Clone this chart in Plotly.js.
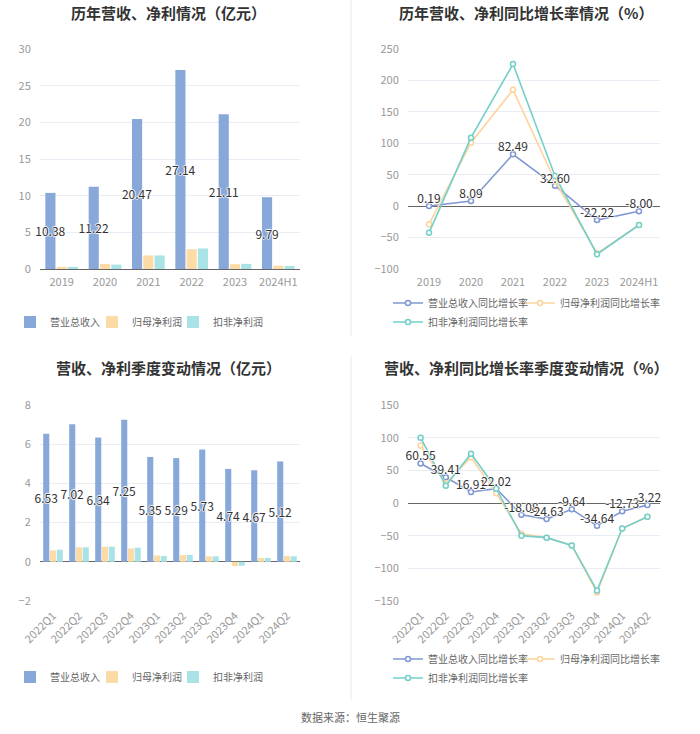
<!DOCTYPE html>
<html>
<head>
<meta charset="utf-8">
<script src="https://cdn.plot.ly/plotly-3.0.1.min.js"></script>
<style>html,body{margin:0;padding:0;background:#fff;}#chart{width:700px;height:734px;}</style>
</head>
<body>
<div id="chart"></div>
<script>
// ---- data ----
const years = ['2019', '2020', '2021', '2022', '2023', '2024H1'];
const revenue = [10.38, 11.22, 20.47, 27.14, 21.11, 9.79];
const netProfit = [0.30, 0.70, 1.85, 2.70, 0.65, 0.45];
const netProfitDed = [0.30, 0.60, 1.85, 2.80, 0.70, 0.42];

const revenueYoY = [0.19, 8.09, 82.49, 32.60, -22.22, -8.00];
const netProfitYoY = [-29, 101, 185, 40, -75, -30];
const netProfitDedYoY = [-42.5, 109, 226, 48, -76.5, -30];

const quarters = ['2022Q1', '2022Q2', '2022Q3', '2022Q4', '2023Q1', '2023Q2', '2023Q3', '2023Q4', '2024Q1', '2024Q2'];
const qRevenue = [6.53, 7.02, 6.34, 7.25, 5.35, 5.29, 5.73, 4.74, 4.67, 5.12];
const qNetProfit = [0.58, 0.74, 0.77, 0.68, 0.32, 0.35, 0.28, -0.22, 0.20, 0.30];
const qNetProfitDed = [0.62, 0.74, 0.77, 0.72, 0.30, 0.35, 0.28, -0.20, 0.20, 0.28];

const qRevenueYoY = [60.55, 39.41, 16.91, 22.02, -18.08, -24.63, -9.64, -34.64, -12.73, -3.22];
const qNetProfitYoY = [88, 30, 70, 15, -47, -53, -65, -137, -39, -21];
const qNetProfitDedYoY = [100, 26.5, 75.5, 22, -50, -53, -65, -134, -39, -21];

const names = ['营业总收入', '归母净利润', '扣非净利润'];
const lineNames = ['营业总收入同比增长率', '归母净利润同比增长率', '扣非净利润同比增长率'];

// ---- styles ----
const FONT = 'Noto Sans CJK SC, Noto Sans, sans-serif';
const cBlue = '#88a8da', cOrange = '#fddba6', cTeal = '#a9e3e6';
const lBlue = '#7f97d2', lOrange = '#fdd49c', lTeal = '#72cfc9';
const halo = '1px 0 1px #fff, -1px 0 1px #fff, 0 1px 1px #fff, 0 -1px 1px #fff';

function barTraces(x, a, b, c, xa, ya, legs) {
  return [
    {type: 'bar', x: x, y: a, name: names[0], marker: {color: cBlue}, xaxis: xa, yaxis: ya, legend: legs[0],
     texttemplate: '%{y:.2f}', textposition: 'inside', insidetextanchor: 'middle', constraintext: 'none', textangle: 0,
     cliponaxis: false, textfont: {color: '#333', size: 12, family: FONT, shadow: halo}, hoverinfo: 'skip'},
    {type: 'bar', x: x, y: b, name: names[1], marker: {color: cOrange}, xaxis: xa, yaxis: ya, legend: legs[1], hoverinfo: 'skip'},
    {type: 'bar', x: x, y: c, name: names[2], marker: {color: cTeal}, xaxis: xa, yaxis: ya, legend: legs[2], hoverinfo: 'skip'}
  ];
}
function lineTraces(x, a, b, c, xa, ya, legs) {
  const mk = (col) => ({symbol: 'circle', size: 5, color: '#fff', line: {color: col, width: 1.5}});
  return [
    {type: 'scatter', mode: 'lines+markers', x: x, y: a, name: lineNames[0], xaxis: xa, yaxis: ya, legend: legs[0],
     line: {color: lBlue, width: 1.6}, marker: mk(lBlue), hoverinfo: 'skip'},
    {type: 'scatter', mode: 'lines+markers', x: x, y: b, name: lineNames[1], xaxis: xa, yaxis: ya, legend: legs[1],
     line: {color: lOrange, width: 1.6}, marker: mk(lOrange), hoverinfo: 'skip'},
    {type: 'scatter', mode: 'lines+markers', x: x, y: c, name: lineNames[2], xaxis: xa, yaxis: ya, legend: legs[2],
     line: {color: lTeal, width: 1.6}, marker: mk(lTeal), hoverinfo: 'skip'},
    // value labels of the revenue growth series, drawn on top
    {type: 'scatter', mode: 'text', x: x, y: a, xaxis: xa, yaxis: ya, showlegend: false, cliponaxis: false,
     texttemplate: '%{y:.2f}', textposition: 'top center',
     textfont: {color: '#333', size: 12, family: FONT, shadow: halo}, hoverinfo: 'skip'}
  ];
}

const data = [].concat(
  barTraces(years, revenue, netProfit, netProfitDed, 'x', 'y', ['legend', 'legend2', 'legend3']),
  lineTraces(years, revenueYoY, netProfitYoY, netProfitDedYoY, 'x2', 'y2', ['legend4', 'legend5', 'legend6']),
  barTraces(quarters, qRevenue, qNetProfit, qNetProfitDed, 'x3', 'y3', ['legend7', 'legend8', 'legend9']),
  lineTraces(quarters, qRevenueYoY, qNetProfitYoY, qNetProfitDedYoY, 'x4', 'y4', ['legend10', 'legend11', 'legend12'])
);

const W = 700, H = 734;
const px = (v) => v / W, py = (v) => 1 - v / H;
const tickFont = {family: FONT, size: 11, color: '#999'};

function xAxis(domain, anchor, cats, angle) {
  return {domain: domain, anchor: anchor, type: 'category', categoryarray: cats, range: [-0.5, cats.length - 0.5],
    showgrid: false, zeroline: false, showline: false, ticks: 'outside', ticklen: 3, tickcolor: 'rgba(0,0,0,0)',
    tickfont: tickFont, tickangle: angle, fixedrange: true, automargin: false};
}
// tick marks sitting on the zero line
function tickAxis(over, cats, yDom, yRange) {
  const frac = (0 - yRange[0]) / (yRange[1] - yRange[0]);
  const pos = yDom[0] + frac * (yDom[1] - yDom[0]);
  return {overlaying: over, anchor: 'free', position: pos, type: 'category', categoryarray: cats,
    tickmode: 'array', tickvals: cats, range: [-0.5, cats.length - 0.5], showticklabels: false,
    ticks: 'outside', ticklen: 4, tickcolor: '#666', tickwidth: 1, showline: false, showgrid: false, zeroline: false,
    fixedrange: true, automargin: false};
}
function yAxis(domain, anchor, range, dtick) {
  return {domain: domain, anchor: anchor, range: range, dtick: dtick, showgrid: true, gridcolor: '#e9ecf2',
    gridwidth: 1, zeroline: true, zerolinecolor: '#666', zerolinewidth: 1, showline: false,
    ticks: 'outside', ticklen: 6, tickcolor: 'rgba(0,0,0,0)', tickfont: tickFont, fixedrange: true, automargin: false};
}

const xTop = [px(40), px(300)], xTopR = [px(408), px(660)];
const yTop = [py(269), py(49)], yBot = [py(601), py(405)];
const r1 = [0, 30], r2 = [-100, 250], r3 = [-2, 8], r4 = [-150, 150];

const leg = (x, y) => ({orientation: 'h', font: {family: FONT, size: 10, color: '#666'}, bgcolor: 'rgba(0,0,0,0)',
  borderwidth: 0, yanchor: 'middle', xanchor: 'left', itemwidth: 30, x: px(x), y: py(y)});

const title = (text, x, y) => ({text: '<b>' + text + '</b>', x: x, y: y, xref: 'paper', yref: 'paper',
  xanchor: 'center', yanchor: 'middle', showarrow: false, font: {family: FONT, size: 15, color: '#333'}});

const layout = {
  width: W, height: H, margin: {l: 0, r: 0, t: 0, b: 0}, paper_bgcolor: '#fff', plot_bgcolor: '#fff',
  font: {family: FONT}, barmode: 'group', bargap: 0.22, bargroupgap: 0.1, showlegend: true,
  xaxis: xAxis(xTop, 'y', years, 0),
  yaxis: yAxis(yTop, 'x', r1, 5),
  xaxis2: xAxis(xTopR, 'y2', years, 0),
  yaxis2: yAxis(yTop, 'x2', r2, 50),
  xaxis3: xAxis(xTop, 'y3', quarters, -45),
  yaxis3: yAxis(yBot, 'x3', r3, 2),
  xaxis4: xAxis(xTopR, 'y4', quarters, -45),
  yaxis4: yAxis(yBot, 'x4', r4, 50),
  xaxis5: tickAxis('x', years, yTop, r1),
  xaxis6: tickAxis('x2', years, yTop, r2),
  xaxis7: tickAxis('x3', quarters, yBot, r3),
  xaxis8: tickAxis('x4', quarters, yBot, r4),
  legend: leg(10, 322), legend2: leg(92, 322), legend3: leg(173, 322),
  legend4: leg(388, 303), legend5: leg(520, 303), legend6: leg(388, 322),
  legend7: leg(10, 677), legend8: leg(92, 677), legend9: leg(173, 677),
  legend10: leg(388, 659), legend11: leg(520, 659), legend12: leg(388, 678),
  annotations: [
    title('历年营收、净利情况（亿元）', px(168), py(12)),
    title('历年营收、净利同比增长率情况（%）', px(526), py(12)),
    title('营收、净利季度变动情况（亿元）', px(168), py(367)),
    title('营收、净利同比增长率季度变动情况（%）', px(526), py(367)),
    {text: '数据来源：恒生聚源', x: 0.5, y: py(717), xref: 'paper', yref: 'paper', xanchor: 'center', yanchor: 'middle',
     showarrow: false, font: {family: FONT, size: 11, color: '#666'}}
  ],
  shapes: [
    {type: 'line', xref: 'paper', yref: 'paper', x0: px(351), x1: px(351), y0: py(0), y1: py(336), line: {color: '#f0f0f0', width: 1.5}},
    {type: 'line', xref: 'paper', yref: 'paper', x0: px(351), x1: px(351), y0: py(356), y1: py(700), line: {color: '#f0f0f0', width: 1.5}}
  ]
};

Plotly.newPlot('chart', data, layout, {staticPlot: true, displayModeBar: false});
</script>
</body>
</html>
